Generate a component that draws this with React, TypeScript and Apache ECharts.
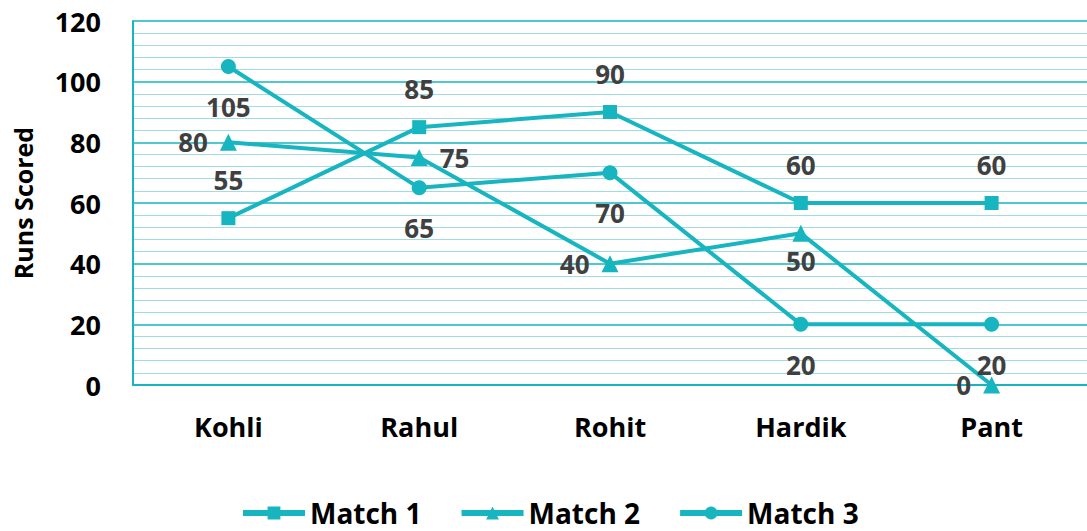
import React, { useEffect, useRef } from "react";
import * as echarts from "echarts";

const categories = ["Kohli", "Rahul", "Rohit", "Hardik", "Pant"];
const match1 = [55, 85, 90, 60, 60];
const match2 = [80, 75, 40, 50, 0];
const match3 = [105, 65, 70, 20, 20];
const match2Positions = ["left", "right", "left", "bottom", "left"];

const TEAL = "#17B5C0";
const LABEL_COLOR = "#404040";
const FONT = "'Open Sans', 'Noto Sans', sans-serif";

export default function App() {
  const ref = useRef<HTMLDivElement>(null);
  useEffect(() => {
    if (!ref.current) return;
    const chart = echarts.init(ref.current, undefined, { renderer: "svg" });
    const labelBase = {
      show: true,
      color: LABEL_COLOR,
      fontSize: 26,
      fontWeight: "bold" as const,
      fontFamily: FONT,
    };
    const dist2 = [12, 12, 12, 6, 12];
    chart.setOption({
      animation: false,
      grid: {
        left: 133,
        top: 21,
        width: 960,
        height: 364,
        show: false,
      },
      legend: {
        top: 494,
        left: 235,
        itemWidth: 62,
        itemHeight: 16,
        itemGap: 37,
        lineStyle: { width: 6 },
        textStyle: {
          color: "#000",
          fontSize: 28,
          fontWeight: "bold",
          fontFamily: FONT,
          padding: [0, 0, 0, 0],
        },
        data: ["Match 1", "Match 2", "Match 3"],
      },
      xAxis: {
        type: "category",
        data: categories,
        boundaryGap: true,
        axisLine: { show: true, lineStyle: { color: TEAL, width: 2 } },
        axisTick: { show: false },
        axisLabel: {
          color: "#000",
          fontSize: 27,
          fontWeight: "bold",
          fontFamily: FONT,
          margin: 28,
        },
      },
      yAxis: {
        type: "value",
        min: 0,
        max: 120,
        interval: 20,
        name: "Runs Scored",
        nameLocation: "middle",
        nameGap: 98,
        nameTextStyle: {
          color: "#000",
          fontSize: 25,
          fontWeight: "bold",
          fontFamily: FONT,
        },
        axisLine: { show: true, lineStyle: { color: TEAL, width: 2 } },
        axisTick: { show: false },
        axisLabel: {
          color: "#000",
          fontSize: 27,
          fontWeight: "bold",
          fontFamily: FONT,
          margin: 32,
        },
        splitLine: { show: true, lineStyle: { color: TEAL, width: 1.5 } },
        minorTick: { show: false, splitNumber: 5 },
        minorSplitLine: { show: true, lineStyle: { color: "#9FDDE2", width: 1 } },
      },
      series: [
        {
          name: "Match 1",
          type: "line",
          data: match1,
          symbol: "rect",
          symbolSize: 14,
          lineStyle: { color: TEAL, width: 4 },
          itemStyle: { color: TEAL },
          label: { ...labelBase, position: "top", distance: 18 },
          z: 3,
        },
        {
          name: "Match 2",
          type: "line",
          data: match2.map((v, i) => ({
            value: v,
            label: {
              position: match2Positions[i],
              distance: dist2[i],
            },
          })),
          symbol: "triangle",
          symbolSize: 17,
          lineStyle: { color: TEAL, width: 4 },
          itemStyle: { color: TEAL },
          label: { ...labelBase },
          z: 3,
        },
        {
          name: "Match 3",
          type: "line",
          data: match3,
          symbol: "circle",
          symbolSize: 15,
          lineStyle: { color: TEAL, width: 4 },
          itemStyle: { color: TEAL },
          label: { ...labelBase, position: "bottom", distance: 20 },
          z: 3,
        },
      ],
    });
    return () => chart.dispose();
  }, []);
  return (
    <div
      ref={ref}
      style={{ position: "fixed", left: 0, top: 0, width: 1087, height: 531, background: "#fff" }}
    />
  );
}
